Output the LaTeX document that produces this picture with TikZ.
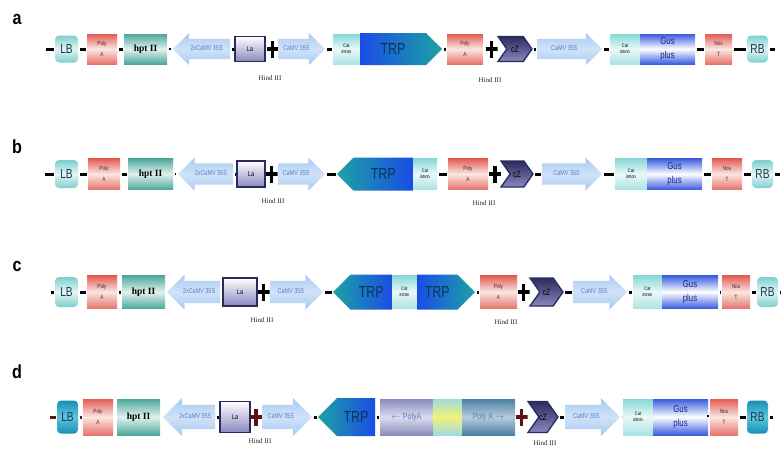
\documentclass[tikz,border=0pt]{standalone}
\usepackage{fontspec}
\setmainfont{Liberation Serif}
\newfontfamily\cond[FakeStretch=0.78]{Liberation Sans}
\newfontfamily\labfont[FakeStretch=0.85]{Liberation Sans}
\usetikzlibrary{shapes.symbols,shapes.arrows}
\definecolor{lbT}{HTML}{7CCFCF}
\definecolor{lbM}{HTML}{E4F5F5}
\definecolor{lbX}{HTML}{1E3A4A}
\definecolor{paT}{HTML}{E35B52}
\definecolor{paM}{HTML}{FBE6E2}
\definecolor{hpT}{HTML}{4DA79B}
\definecolor{hpM}{HTML}{E2F1EE}
\definecolor{cvA}{HTML}{A9CBF2}
\definecolor{cvM}{HTML}{CFE2F8}
\definecolor{cvX}{HTML}{5C7CC8}
\definecolor{laD}{HTML}{2B2A5E}
\definecolor{laB}{HTML}{8A88C0}
\definecolor{ctT}{HTML}{86D8D6}
\definecolor{ctM}{HTML}{EAF8F8}
\definecolor{trB}{HTML}{1A4CE6}
\definecolor{trT}{HTML}{1BA3A3}
\definecolor{trX}{HTML}{0C3552}
\definecolor{gsB}{HTML}{3A5CE0}
\definecolor{gsX}{HTML}{14248A}
\definecolor{dkT}{HTML}{1A8EB8}
\definecolor{dkM}{HTML}{5CC6DE}
\definecolor{prT}{HTML}{8A8CBC}
\definecolor{prM}{HTML}{DADCEE}
\definecolor{pfT}{HTML}{4C7FA2}
\definecolor{pfM}{HTML}{B8CCDC}
\definecolor{ylT}{HTML}{9EDCDC}
\definecolor{ylM}{HTML}{F2F07A}
\definecolor{plR}{HTML}{5A1418}
\tikzset{
 base/.style={inner sep=0pt, outer sep=0pt, align=center, minimum height=\rowh*1pt},
 lbox/.style={base, rounded corners=4pt, minimum height=(\rowh-3)*1pt, top color=lbT, bottom color=lbT, middle color=lbM, font=\cond\fontsize{13}{13}\selectfont, text=lbX},
 dkbox/.style={lbox, top color=dkT, bottom color=dkT, middle color=dkM},
 pabox/.style={base, top color=paT, bottom color=paT!85, middle color=paM, font=\cond\fontsize{6}{11}\selectfont, text=black!80},
 hptbox/.style={base, top color=hpT, bottom color=hpT, middle color=hpM, font=\bfseries\fontsize{9.5}{9.5}\selectfont},
 camv/.style={single arrow, single arrow head extend=\hext pt, inner xsep=1pt, inner ysep=\isep pt, text height=4.5pt, text depth=1.5pt, outer sep=0pt, top color=cvA, bottom color=cvA, middle color=cvM, font=\cond\fontsize{7}{7}\selectfont, text=cvX, anchor=tail},
 camvL/.style={camv, shape border rotate=180},
 labox/.style={base, minimum height=(\rowh-5)*1pt, draw=laD, line width=1.3pt, top color=white, bottom color=laB, font=\cond\fontsize{7}{7}\selectfont},
 catbox/.style={base, top color=ctT, bottom color=ctT!70, middle color=ctM, font=\cond\fontsize{5}{5.5}\selectfont},
 trp/.style={base, signal, signal pointer angle=90, minimum height=(\rowh+2)*1pt, font=\cond\fontsize{16}{16}\selectfont, text=trX},
 trpR/.style={trp, signal to=east, left color=trB, right color=trT, anchor=west},
 trpL/.style={trp, signal to=west, left color=trT, right color=trB, anchor=east},
 czbox/.style={base, signal, signal to=east, signal from=west, signal pointer angle=110, minimum height=(\rowh-5)*1pt, draw=laD, line width=1.3pt, top color=laD, middle color=white, bottom color=laB, font=\cond\fontsize{9}{9}\selectfont, anchor=east},
 gusbox/.style={base, top color=gsB, bottom color=gsB, middle color=white, font=\cond\fontsize{10}{14}\selectfont, text=gsX},
 prbox/.style={base, top color=prT, bottom color=prT, middle color=prM, font=\cond\fontsize{9}{9}\selectfont, text=cvX},
 pfbox/.style={base, top color=pfT, bottom color=pfT, middle color=pfM, font=\cond\fontsize{9}{9}\selectfont, text=cvX},
 ylbox/.style={base, top color=ylT, bottom color=ylT, middle color=ylM},
 plusn/.style={inner sep=0pt, outer sep=0pt, minimum width=12pt, minimum height=17pt, path picture={
   \fill[#1] ([xshift=-1.7pt]path picture bounding box.north) rectangle ([xshift=1.7pt]path picture bounding box.south);
   \fill[#1] ([yshift=1.7pt]path picture bounding box.west) rectangle ([yshift=-1.7pt]path picture bounding box.east);}},
 plusn/.default=black,
 link/.style={line width=3pt, shorten <=1.5pt, shorten >=1.5pt},
 tick/.style={line width=1.4pt, shorten <=2pt, shorten >=2pt},
 hind/.style={font=\fontsize{7}{7}\selectfont, text=black!85},
 rowlab/.style={font=\labfont\bfseries\fontsize{19}{19}\selectfont}
}
\begin{document}
\begin{tikzpicture}[x=1pt,y=-1pt]
\fill[white] (0,0) rectangle (782,448);
\useasboundingbox (0,0) rectangle (782,448);
% ---------------- row a ----------------
\def\rowh{30}\def\hext{6}\def\isep{7}
\node[rowlab] (la) at (17,19) {a};
\coordinate (a-s0) at (44,49);
\node[lbox, minimum width=23pt] (a-lb) at (66.5,49) {LB};
\node[pabox, minimum width=30pt] (a-pa) at (102,49) {Poly\\A};
\node[hptbox, minimum width=43pt] (a-hpt) at (145.5,49) {hpt II};
\node[camvL, minimum height=57pt] (a-c1) at (230,49) {2xCaMV 35S};
\node[labox, minimum width=30pt] (a-la) at (250,49) {La};
\node[plusn] (a-p1) at (272.5,49) {};
\node[camv, minimum height=47pt] (a-c2) at (278,49) {CaMV 35S};
\node[catbox, minimum width=27pt] (a-cat1) at (346.5,49) {Cat\\intron};
\node[trpR, minimum width=82pt] (a-trp) at (360,49) {TRP};
\node[pabox, minimum width=36pt] (a-pa2) at (465,49) {Poly\\A};
\node[plusn] (a-p2) at (491.5,49) {};
\node[czbox, minimum width=34pt] (a-cz) at (532,49) {cZ};
\node[camv, minimum height=65pt] (a-c3) at (537,49) {CaMV 35S};
\node[catbox, minimum width=30pt] (a-cat2) at (625,49) {Cat\\intron};
\node[gusbox, minimum width=55pt] (a-gus) at (667.5,49) {Gus\\plus};
\node[pabox, minimum width=27pt] (a-nos) at (718.5,49) {Nos\\T};
\node[lbox, minimum width=21pt] (a-rb) at (757.5,49) {RB};
\coordinate (a-s1) at (776,49);
\draw[link] (a-s0) -- (a-lb.west);
\draw[link] (a-lb.east) -- (a-pa.west);
\draw[link] (a-pa.east) -- (a-hpt.west);
\draw[tick] (a-hpt.east) -- (a-c1.tip);
\draw[link] (a-c1.tail) -- (a-la.west);
\draw[link] (a-c2.tip) -- (a-cat1.west);
\draw[link] (a-trp.east) -- (a-pa2.west);
\draw[link] (a-cz.east) -- (a-c3.tail);
\draw[link] (a-c3.tip) -- (a-cat2.west);
\draw[link] (a-gus.east) -- (a-nos.west);
\draw[link] (a-nos.east) -- (a-rb.west);
\draw[link] (a-rb.east) -- (a-s1);
\node[hind] (a-h1) at (270,78) {Hind III};
\node[hind] (a-h2) at (490,80) {Hind III};
% ---------------- row b ----------------
\def\rowh{31}\def\hext{6}\def\isep{7.5}
\node[rowlab] (lb) at (17,147) {b};
\coordinate (b-s0) at (43,174);
\node[lbox, minimum width=23pt] (b-lb) at (66.5,174) {LB};
\node[pabox, minimum width=32pt] (b-pa) at (104,174) {Poly\\A};
\node[hptbox, minimum width=45pt] (b-hpt) at (150.5,174) {hpt II};
\node[camvL, minimum height=55pt] (b-c1) at (233,174) {2xCaMV 35S};
\node[labox, minimum width=28pt] (b-la) at (251,174) {La};
\node[plusn] (b-p1) at (271.5,174) {};
\node[camv, minimum height=47pt] (b-c2) at (278,174) {CaMV 35S};
\node[trpL, minimum width=76pt] (b-trp) at (413,174) {TRP};
\node[catbox, minimum width=24pt] (b-cat1) at (425,174) {Cat\\intron};
\node[pabox, minimum width=40pt] (b-pa2) at (468,174) {Poly\\A};
\node[plusn] (b-p2) at (495,174) {};
\node[czbox, minimum width=32pt] (b-cz) at (533,174) {cZ};
\node[camv, minimum height=60pt] (b-c3) at (542,174) {CaMV 35S};
\node[catbox, minimum width=32pt] (b-cat2) at (631,174) {Cat\\intron};
\node[gusbox, minimum width=55pt] (b-gus) at (674.5,174) {Gus\\plus};
\node[pabox, minimum width=30pt] (b-nos) at (727,174) {Nos\\T};
\node[lbox, minimum width=21pt] (b-rb) at (762.5,174) {RB};
\coordinate (b-s1) at (781,174);
\draw[link] (b-s0) -- (b-lb.west);
\draw[link] (b-lb.east) -- (b-pa.west);
\draw[link] (b-pa.east) -- (b-hpt.west);
\draw[tick] (b-hpt.east) -- (b-c1.tip);
\draw[link] (b-c1.tail) -- (b-la.west);
\draw[link] (b-c2.tip) -- (b-trp.west);
\draw[link] (b-cat1.east) -- (b-pa2.west);
\draw[link] (b-cz.east) -- (b-c3.tail);
\draw[link] (b-c3.tip) -- (b-cat2.west);
\draw[link] (b-gus.east) -- (b-nos.west);
\draw[link] (b-nos.east) -- (b-rb.west);
\draw[link] (b-rb.east) -- (b-s1);
\node[hind] (b-h1) at (273,201) {Hind III};
\node[hind] (b-h2) at (484,203) {Hind III};
% ---------------- row c ----------------
\def\rowh{33}\def\hext{6.5}\def\isep{8}
\node[rowlab] (lc) at (17,266) {c};
\coordinate (c-s0) at (49,292);
\node[lbox, minimum width=23pt] (c-lb) at (66.5,292) {LB};
\node[pabox, minimum width=30pt] (c-pa) at (102,292) {Poly\\A};
\node[hptbox, minimum width=43pt] (c-hpt) at (143.5,292) {hpt II};
\node[camvL, minimum height=53pt] (c-c1) at (220,292) {2xCaMV 35S};
\node[labox, minimum width=34pt] (c-la) at (240,292) {La};
\node[plusn] (c-p1) at (263.5,292) {};
\node[camv, minimum height=53pt] (c-c2) at (270,292) {CaMV 35S};
\node[trpL, minimum width=59pt] (c-trp1) at (392,292) {TRP};
\node[catbox, minimum width=25pt] (c-cat1) at (404.5,292) {Cat\\intron};
\node[trpR, minimum width=58pt] (c-trp2) at (417,292) {TRP};
\node[pabox, minimum width=37pt] (c-pa2) at (498.5,292) {Poly\\A};
\node[plusn] (c-p2) at (523.5,292) {};
\node[czbox, minimum width=33pt] (c-cz) at (563,292) {cZ};
\node[camv, minimum height=54pt] (c-c3) at (573,292) {CaMV 35S};
\node[catbox, minimum width=29pt] (c-cat2) at (647.5,292) {Cat\\intron};
\node[gusbox, minimum width=56pt] (c-gus) at (690,292) {Gus\\plus};
\node[pabox, minimum width=28pt] (c-nos) at (736,292) {Nos\\T};
\node[lbox, minimum width=21pt] (c-rb) at (767.5,292) {RB};
\coordinate (c-s1) at (782,292);
\draw[link] (c-s0) -- (c-lb.west);
\draw[link] (c-lb.east) -- (c-pa.west);
\draw[link] (c-pa.east) -- (c-hpt.west);
\draw[link] (c-c1.tail) -- (c-la.west);
\draw[link] (c-c2.tip) -- (c-trp1.west);
\draw[link] (c-trp2.east) -- (c-pa2.west);
\draw[link] (c-cz.east) -- (c-c3.tail);
\draw[link] (c-c3.tip) -- (c-cat2.west);
\draw[link] (c-gus.east) -- (c-nos.west);
\draw[link] (c-nos.east) -- (c-rb.west);
\draw[link] (c-rb.east) -- (c-s1);
\node[hind] (c-h1) at (262,320) {Hind III};
\node[hind] (c-h2) at (506,322) {Hind III};
% ---------------- row d ----------------
\def\rowh{36}\def\hext{7}\def\isep{9}
\node[rowlab] (ld) at (17,372) {d};
\coordinate (d-s0) at (48,417);
\node[dkbox, minimum width=21pt] (d-lb) at (67.5,417) {LB};
\node[pabox, minimum width=30pt] (d-pa) at (98,417) {Poly\\A};
\node[hptbox, minimum width=43pt] (d-hpt) at (138.5,417) {hpt II};
\node[camvL, minimum height=52pt] (d-c1) at (215,417) {2xCaMV 35S};
\node[labox, minimum width=30pt] (d-la) at (235,417) {La};
\node[plusn=plR] (d-p1) at (256,417) {};
\node[camv, minimum height=50pt] (d-c2) at (262,417) {CaMV 35S};
\node[trpL, minimum width=57pt] (d-trp) at (375,417) {TRP};
\node[prbox, minimum width=53pt] (d-pr) at (406.5,417) {$\leftarrow$ PolyA};
\node[ylbox, minimum width=29pt] (d-yl) at (447.5,417) {};
\node[pfbox, minimum width=53pt] (d-pf) at (488.5,417) {Poly A $\rightarrow$};
\node[plusn=plR] (d-p2) at (521.5,417) {};
\node[czbox, minimum width=30pt] (d-cz) at (558,417) {cZ};
\node[camv, minimum height=55pt] (d-c3) at (565,417) {CaMV 35S};
\node[catbox, minimum width=30pt] (d-cat2) at (638,417) {Cat\\intron};
\node[gusbox, minimum width=55pt] (d-gus) at (680.5,417) {Gus\\plus};
\node[pabox, minimum width=28pt] (d-nos) at (724,417) {Nos\\T};
\node[dkbox, minimum width=21pt] (d-rb) at (757.5,417) {RB};
\coordinate (d-s1) at (774,417);
\draw[link, plR] (d-s0) -- (d-lb.west);
\draw[link, plR] (d-lb.east) -- (d-pa.west);
\draw[tick] (d-pa.east) -- (d-hpt.west);
\draw[link] (d-c1.tail) -- (d-la.west);
\draw[link] (d-c2.tip) -- (d-trp.west);
\draw[link] (d-trp.east) -- (d-pr.west);
\draw[link] (d-cz.east) -- (d-c3.tail);
\draw[link] (d-c3.tip) -- (d-cat2.west);
\draw[tick] (d-gus.east) -- (d-nos.west);
\draw[link] (d-nos.east) -- (d-rb.west);
\draw[link] (d-rb.east) -- (d-s1);
\node[hind] (d-h1) at (260,441) {Hind III};
\node[hind] (d-h2) at (545,443) {Hind III};
\end{tikzpicture}
\end{document}
